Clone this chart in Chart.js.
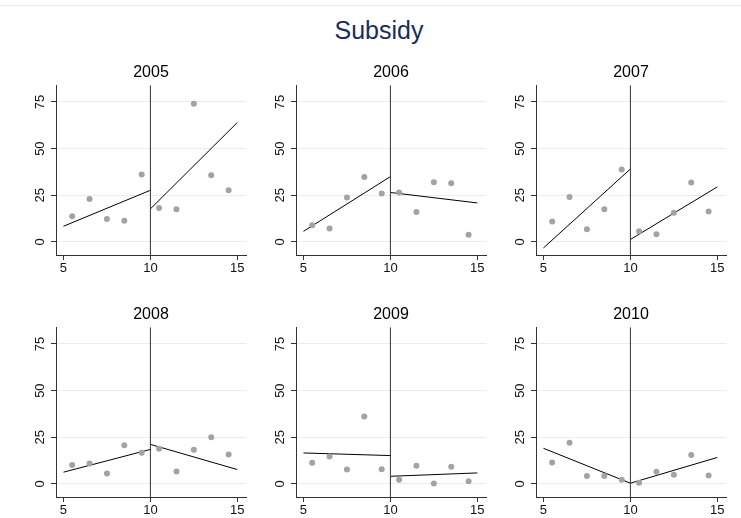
<!DOCTYPE html>
<html>
<head>
<meta charset="utf-8">
<script src="https://cdn.jsdelivr.net/npm/chart.js@4.4.1/dist/chart.umd.min.js"></script>
<style>
  body { margin: 0; background: #fff; font-family: "Liberation Sans", Arial, sans-serif; }
  #wrap { position: relative; width: 741px; height: 518px; overflow: hidden; }
  #topline { position: absolute; left: 0; top: 5px; width: 741px; height: 1px; background: #ececec; }
  #title { position: absolute; left: 279px; width: 200px; top: 15px; text-align: center;
           font-size: 25px; color: #1d2b5a; line-height: 30px; }
  canvas { position: absolute; }
</style>
</head>
<body>
<div id="wrap">
  <div id="topline"></div>
  <div id="title">Subsidy</div>
</div>
<script>
// bin midpoints on the x axis
const xPos = [5.5, 6.5, 7.5, 8.5, 9.5, 10.5, 11.5, 12.5, 13.5, 14.5];
const xTicks = [5, 10, 15];
const yTicks = [0, 25, 50, 75];
const years = ['2005', '2006', '2007', '2008', '2009', '2010'];

// binned means per year
const y2005 = [13.8, 23, 12.3, 11.3, 36.1, 18.2, 17.5, 74.1, 35.7, 27.7];
const y2006 = [8.9, 7.2, 23.8, 34.8, 25.9, 26.5, 16.1, 32, 31.4, 3.8];
const y2007 = [10.9, 24.1, 6.8, 17.5, 38.8, 5.7, 4.1, 15.7, 31.8, 16.3];
const y2008 = [10.2, 11, 5.6, 20.8, 16.7, 18.8, 6.7, 18.3, 25, 15.8];
const y2009 = [11.3, 14.7, 7.8, 36.1, 7.9, 2.3, 9.8, 0.2, 9.2, 1.4];
const y2010 = [11.5, 22.1, 4.3, 4.3, 2.3, 0.7, 6.5, 4.9, 15.5, 4.5];

// linear fits: [left at 5, left at 10, right at 10, right at 15]
const fit2005 = [8.4, 27.7, 17.7, 64];
const fit2006 = [5.7, 35, 26.5, 20.9];
const fit2007 = [-3.2, 39.1, 1.3, 29.5];
const fit2008 = [6.3, 18.5, 21.2, 7.7];
const fit2009 = [16.6, 15.2, 4.1, 5.9];
const fit2010 = [19.1, 0.4, 0.4, 14.2];

const cutoff = 10;
const fitStart = 5, fitEnd = 15;
const yMin = -7, yMax = 84;
const xMin = 4.57, xMax = 15.5;

const allY = [y2005, y2006, y2007, y2008, y2009, y2010];
const allFit = [fit2005, fit2006, fit2007, fit2008, fit2009, fit2010];

const FONT = '"Liberation Sans", Arial, sans-serif';

// y labels in Stata style: rotated, reading upward
const rotatedYLabels = {
  id: 'rotatedYLabels',
  afterDraw(chart) {
    const ctx = chart.ctx;
    const yScale = chart.scales.y;
    ctx.save();
    ctx.font = '13px ' + FONT;
    ctx.fillStyle = '#111';
    ctx.textAlign = 'center';
    ctx.textBaseline = 'middle';
    yTicks.forEach(v => {
      const py = yScale.getPixelForValue(v);
      ctx.save();
      ctx.translate(yScale.right - 16, py);
      ctx.rotate(-Math.PI / 2);
      ctx.fillText(String(v), 0, 0);
      ctx.restore();
    });
    ctx.restore();
  }
};

function makePanel(i) {
  const wrap = document.getElementById('wrap');
  const canvas = document.createElement('canvas');
  const col = i % 3, row = Math.floor(i / 3);
  canvas.width = 250;
  canvas.height = 220;
  canvas.style.left = (col * 240) + 'px';
  canvas.style.top = (row === 0 ? 60 : 302) + 'px';
  canvas.style.width = '250px';
  canvas.style.height = '220px';
  wrap.appendChild(canvas);

  const ys = allY[i];
  const fit = allFit[i];

  new Chart(canvas.getContext('2d'), {
    type: 'scatter',
    data: {
      datasets: [
        {
          // cutoff line
          type: 'line',
          data: [{x: cutoff, y: yMin}, {x: cutoff, y: yMax}],
          borderColor: '#333',
          borderWidth: 1,
          pointRadius: 0,
          fill: false
        },
        {
          data: xPos.map((x, k) => ({x: x, y: ys[k]})),
          backgroundColor: '#a3a3a3',
          borderWidth: 0,
          pointRadius: 3
        },
        {
          type: 'line',
          data: [{x: fitStart, y: fit[0]}, {x: cutoff, y: fit[1]}],
          borderColor: '#000',
          borderWidth: 1,
          pointRadius: 0,
          fill: false
        },
        {
          type: 'line',
          data: [{x: cutoff, y: fit[2]}, {x: fitEnd, y: fit[3]}],
          borderColor: '#000',
          borderWidth: 1,
          pointRadius: 0,
          fill: false
        }
      ]
    },
    options: {
      responsive: false,
      animation: false,
      layout: { padding: { left: 16, right: 3, top: 0, bottom: 0 } },
      plugins: {
        legend: { display: false },
        tooltip: { enabled: false },
        title: {
          display: true,
          text: years[i],
          fullSize: false,
          color: '#000',
          font: { family: FONT, size: 16, weight: 'normal' },
          padding: { top: 3, bottom: 3 }
        }
      },
      scales: {
        x: {
          type: 'linear',
          min: xMin,
          max: xMax,
          afterBuildTicks: s => { s.ticks = xTicks.map(v => ({value: v})); },
          afterFit: s => { s.height = 25; },
          grid: { drawOnChartArea: false, drawTicks: true, tickLength: 5, tickColor: '#333' },
          border: { color: '#333', width: 1 },
          ticks: { color: '#111', font: { family: FONT, size: 13 }, padding: 1, maxRotation: 0 }
        },
        y: {
          type: 'linear',
          min: yMin,
          max: yMax,
          afterBuildTicks: s => { s.ticks = yTicks.map(v => ({value: v})); },
          afterFit: s => { s.width = 40; },
          grid: { color: '#e7eeee', lineWidth: 1, drawTicks: true, tickLength: 5, tickColor: '#333' },
          border: { color: '#333', width: 1 },
          ticks: { display: false }
        }
      }
    },
    plugins: [rotatedYLabels]
  });
}

document.addEventListener('DOMContentLoaded', function() {
  for (let i = 0; i < years.length; i++) {
    makePanel(i);
  }
});
</script>
</body>
</html>
